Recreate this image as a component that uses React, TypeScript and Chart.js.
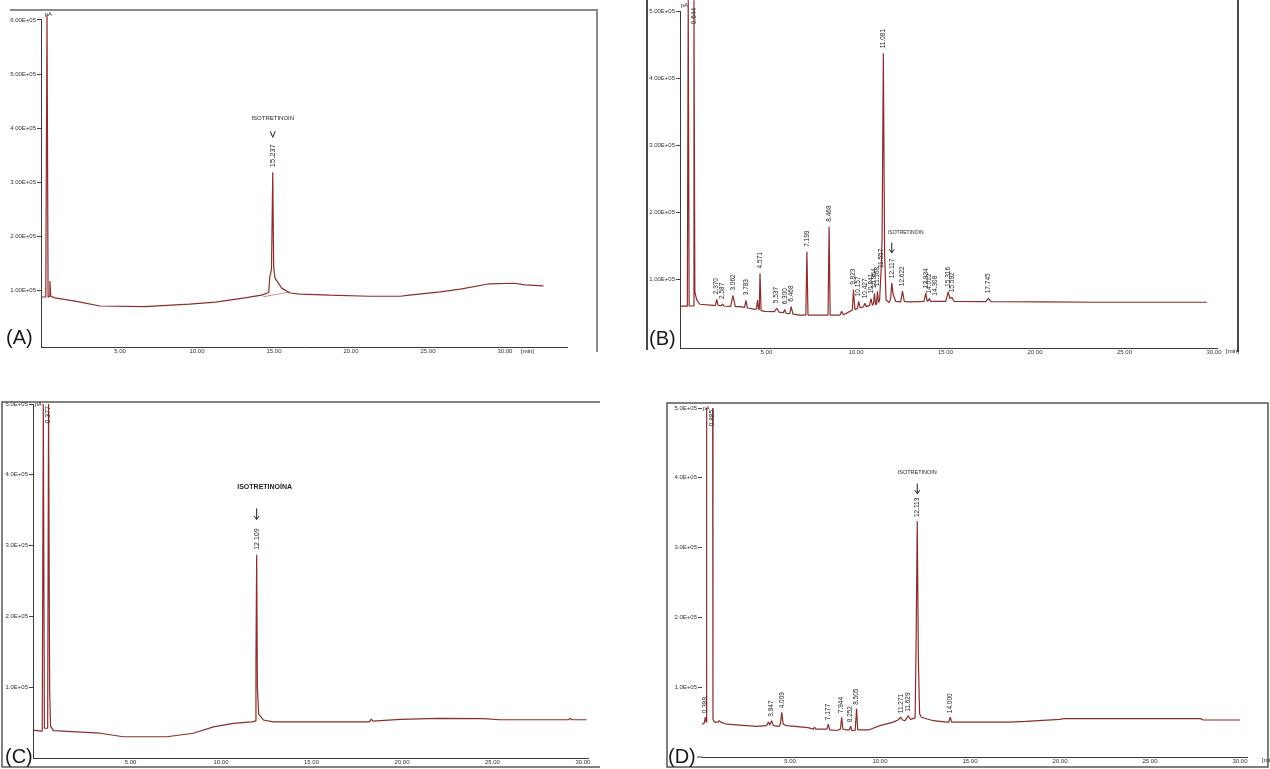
import React, { useEffect, useRef } from "react";
import { Chart, registerables } from "chart.js";

Chart.register(...registerables);

const FONT = '"Liberation Sans", Arial, sans-serif';
const TRACE = "#8b2d2d";

type Pair = [number, number];

// ---------------- Panel A ----------------
const xTicksA = [5, 10, 15, 20, 25, 30];
const xTickLabelsA = ["5.00", "10.00", "15.00", "20.00", "25.00", "30.00"];
const yTicksA = [1, 2, 3, 4, 5, 6];
const yTickLabelsA = ["1.00E+05", "2.00E+05", "3.00E+05", "4.00E+05", "5.00E+05", "6.00E+05"];
const traceA: Pair[] = [
  [-0.13, 0.886], [0.18, 0.886], [0.26, 6.09], [0.33, 0.88], [0.4, 0.9], [0.45, 1.18], [0.5, 0.9],
  [0.78, 0.87], [2.08, 0.81], [3.7, 0.72], [6.6, 0.71], [9.5, 0.756], [11.2, 0.79], [13.1, 0.87],
  [14.2, 0.92], [14.66, 0.97], [14.72, 1.24], [14.84, 1.4], [14.92, 3.19], [14.98, 1.45], [15.06, 1.24],
  [15.5, 1.05], [16.04, 0.96], [16.7, 0.94], [18.6, 0.92], [21.2, 0.9], [23.2, 0.9], [23.8, 0.92],
  [25.8, 0.98], [27.1, 1.03], [29.0, 1.13], [30.6, 1.14], [31.3, 1.11], [32.5, 1.09],
];
const integrationA: Pair[] = [[14.3, 0.89], [16.04, 0.98]];
const peakTimesA = [14.92];
const peakApexA = [3.19];
const peakTextA = ["15.237"];

// ---------------- Panel B ----------------
const xTicksB = [5, 10, 15, 20, 25, 30];
const xTickLabelsB = ["5.00", "10.00", "15.00", "20.00", "25.00", "30.00"];
const yTicksB = [1, 2, 3, 4, 5];
const yTickLabelsB = ["1.00E+05", "2.00E+05", "3.00E+05", "4.00E+05", "5.00E+05"];
const traceB: Pair[] = [
  [0.17, 0.607], [0.58, 0.607], [0.63, 5.16], [0.68, 0.61], [0.9, 0.61], [0.95, 5.16], [1.0, 0.82],
  [1.1, 0.7], [1.28, 0.636], [2.01, 0.62], [2.15, 0.62], [2.22, 0.71], [2.3, 0.62], [2.48, 0.615],
  [2.55, 0.64], [2.62, 0.61], [3.0, 0.605], [3.13, 0.765], [3.26, 0.6], [3.52, 0.6], [3.78, 0.59],
  [3.85, 0.695], [3.94, 0.58], [4.36, 0.56], [4.44, 0.57], [4.5, 0.7], [4.56, 0.56], [4.6, 0.56],
  [4.64, 1.095], [4.7, 0.54], [4.92, 0.53], [5.45, 0.525], [5.57, 0.577], [5.7, 0.52], [5.95, 0.51],
  [6.02, 0.56], [6.1, 0.5], [6.3, 0.495], [6.38, 0.6], [6.48, 0.49], [6.87, 0.473], [7.2, 0.475],
  [7.26, 1.416], [7.32, 0.475], [8.44, 0.473], [8.5, 1.79], [8.56, 0.473], [9.1, 0.473], [9.2, 0.53],
  [9.3, 0.48], [9.66, 0.53], [9.8, 0.55], [9.86, 0.85], [9.94, 0.56], [10.08, 0.57], [10.15, 0.68],
  [10.24, 0.58], [10.42, 0.6], [10.5, 0.65], [10.58, 0.6], [10.76, 0.62], [10.84, 0.72], [10.92, 0.62],
  [10.98, 0.64], [11.03, 0.8], [11.1, 0.63], [11.15, 0.64], [11.2, 0.83], [11.26, 0.66], [11.32, 0.7],
  [11.4, 1.1], [11.46, 1.6], [11.53, 4.37], [11.6, 1.4], [11.68, 0.7], [11.85, 0.66], [11.94, 0.72],
  [12.0, 0.95], [12.08, 0.78], [12.22, 0.68], [12.5, 0.67], [12.6, 0.83], [12.7, 0.68], [13.0, 0.67],
  [13.8, 0.68], [13.9, 0.8], [13.98, 0.68], [14.04, 0.69], [14.1, 0.72], [14.18, 0.68], [14.7, 0.68],
  [15.02, 0.68], [15.15, 0.82], [15.25, 0.72], [15.35, 0.74], [15.48, 0.68], [17.25, 0.675],
  [17.4, 0.725], [17.55, 0.675], [18.04, 0.673], [20.5, 0.67], [23.6, 0.666], [29.6, 0.666],
];
const peakTimesB = [0.95, 2.22, 2.55, 3.13, 3.85, 4.64, 5.57, 6.02, 6.38, 7.26, 8.5, 9.86, 10.15, 10.5, 10.84, 11.03, 11.2, 11.4, 11.53, 12.0, 12.6, 13.9, 14.1, 14.4, 15.15, 15.35, 17.4];
const peakApexB = [5.16, 0.71, 0.64, 0.765, 0.695, 1.095, 0.577, 0.56, 0.6, 1.416, 1.79, 0.85, 0.68, 0.65, 0.72, 0.8, 0.83, 1.1, 4.37, 0.95, 0.83, 0.8, 0.72, 0.69, 0.82, 0.74, 0.725];
const peakTextB = ["0.644", "2.370", "2.587", "3.062", "3.783", "4.571", "5.537", "6.300", "6.468", "7.199", "8.468", "9.823", "10.157", "10.427", "10.841", "10.964", "11.168", "11.557", "11.081", "12.117", "12.622", "13.934", "14.012", "14.308", "15.316", "15.592", "17.745"];

// ---------------- Panel C ----------------
const xTicksC = [5, 10, 15, 20, 25, 30];
const xTickLabelsC = ["5.00", "10.00", "15.00", "20.00", "25.00", "30.00"];
const yTicksC = [1, 2, 3, 4, 5];
const yTickLabelsC = ["1.0E+05", "2.0E+05", "3.0E+05", "4.0E+05", "5.0E+05"];
const traceC: Pair[] = [
  [-0.39, 0.395], [0.06, 0.38], [0.12, 0.38], [0.18, 5.0], [0.24, 0.42], [0.42, 0.42], [0.47, 5.0],
  [0.53, 0.96], [0.58, 0.45], [0.74, 0.386], [3.31, 0.35], [4.6, 0.3], [7.0, 0.3], [8.47, 0.35],
  [9.58, 0.44], [10.68, 0.49], [11.7, 0.51], [11.88, 0.52], [11.93, 1.3], [11.97, 2.87], [12.01, 1.0],
  [12.08, 0.62], [12.34, 0.537], [12.89, 0.51], [15.0, 0.51], [18.2, 0.51], [18.3, 0.55], [18.4, 0.52],
  [19.9, 0.545], [22.0, 0.56], [24.5, 0.555], [25.4, 0.54], [29.2, 0.54], [29.3, 0.56], [29.4, 0.54],
  [30.2, 0.54],
];
const peakTimesC = [0.47, 11.97];
const peakApexC = [5.0, 2.87];
const peakTextC = ["0.377", "12.109"];

// ---------------- Panel D ----------------
const xTicksD = [5, 10, 15, 20, 25, 30];
const xTickLabelsD = ["5.00", "10.00", "15.00", "20.00", "25.00", "30.00"];
const yTicksD = [1, 2, 3, 4, 5];
const yTickLabelsD = ["1.0E+05", "2.0E+05", "3.0E+05", "4.0E+05", "5.0E+05"];
const traceD: Pair[] = [
  [0.11, 0.47], [0.22, 0.48], [0.3, 0.57], [0.34, 0.5], [0.37, 5.5], [0.7, 5.5], [0.72, 0.54],
  [0.8, 0.5], [1.0, 0.5], [1.07, 0.52], [1.15, 0.5], [1.48, 0.47], [3.15, 0.44], [3.7, 0.45],
  [3.8, 0.5], [3.88, 0.46], [3.98, 0.52], [4.08, 0.45], [4.4, 0.44], [4.47, 0.48], [4.54, 0.64],
  [4.62, 0.47], [4.81, 0.45], [6.0, 0.42], [6.3, 0.4], [6.36, 0.43], [6.42, 0.4], [7.05, 0.4],
  [7.13, 0.47], [7.2, 0.39], [7.6, 0.38], [7.8, 0.4], [7.87, 0.57], [7.94, 0.4], [8.1, 0.39],
  [8.3, 0.39], [8.37, 0.44], [8.44, 0.38], [8.62, 0.38], [8.7, 0.69], [8.76, 0.39], [9.4, 0.39],
  [10.0, 0.45], [10.74, 0.5], [11.0, 0.53], [11.15, 0.57], [11.25, 0.53], [11.39, 0.52], [11.57, 0.59],
  [11.7, 0.54], [11.95, 0.56], [12.0, 1.5], [12.07, 3.38], [12.13, 1.4], [12.2, 0.62], [12.3, 0.57],
  [12.96, 0.52], [13.7, 0.5], [13.82, 0.5], [13.9, 0.57], [13.98, 0.5], [14.6, 0.5], [17.2, 0.5],
  [18.1, 0.51], [20.0, 0.54], [20.2, 0.55], [27.8, 0.55], [27.96, 0.53], [30.0, 0.53],
];
const peakTimesD = [0.3, 0.7, 3.98, 4.54, 7.13, 7.87, 8.37, 8.7, 11.15, 11.57, 12.07, 13.9];
const peakApexD = [0.57, 5.5, 0.52, 0.64, 0.47, 0.57, 0.44, 0.69, 0.57, 0.59, 3.38, 0.57];
const peakTextD = ["0.388", "0.885", "3.947", "4.009", "7.177", "7.944", "8.252", "8.505", "11.271", "11.629", "12.113", "14.000"];

interface MainSpec {
  index: number; name: string; font: string; dx: number;
  arrowGap: number; arrowLen: number; nameGap: number; chevron: boolean;
}
interface PanelSpec {
  box: { left: number; top: number; width: number; height: number };
  padding: { left: number; top: number; right: number; bottom: number };
  yWidth: number; xHeight: number;
  xRange: [number, number]; yRange: [number, number];
  xTicks: number[]; xTickLabels: string[]; yTicks: number[]; yTickLabels: string[];
  trace: Pair[]; integration?: Pair[];
  peakTimes: number[]; peakApex: number[]; peakText: string[];
  labelSize: number; labelGap: number; capTop: number;
  main: MainSpec;
  clip: boolean; yBorder: boolean;
  decorate: (ctx: CanvasRenderingContext2D) => void;
}

function text(ctx: CanvasRenderingContext2D, s: string, x: number, y: number, size: number, baseline: CanvasTextBaseline = "alphabetic") {
  ctx.font = `${size}px ${FONT}`;
  ctx.fillStyle = "#1a1a1a";
  ctx.textAlign = "left";
  ctx.textBaseline = baseline;
  ctx.fillText(s, x, y);
}

const specs: PanelSpec[] = [
  {
    box: { left: 0, top: 0, width: 635, height: 385 },
    padding: { left: 0, top: 19, right: 68, bottom: 29 },
    yWidth: 41, xHeight: 9,
    xRange: [-0.13, 34.03], yRange: [-0.037, 6.018],
    xTicks: xTicksA, xTickLabels: xTickLabelsA, yTicks: yTicksA, yTickLabels: yTickLabelsA,
    trace: traceA, integration: integrationA,
    peakTimes: peakTimesA, peakApex: peakApexA, peakText: peakTextA,
    labelSize: 7.5, labelGap: 5, capTop: 1,
    main: { index: 0, name: "ISOTRETINOIN", font: `6px ${FONT}`, dx: 0, arrowGap: 7, arrowLen: 6, nameGap: 13, chevron: true },
    clip: false, yBorder: true,
    decorate: (ctx) => {
      ctx.strokeStyle = "#8a8a8a"; ctx.lineWidth = 2;
      ctx.beginPath(); ctx.moveTo(10, 10); ctx.lineTo(597, 10); ctx.lineTo(597, 352); ctx.stroke();
      text(ctx, "(A)", 6, 344, 20);
      text(ctx, "pA", 45, 16, 5.5);
      text(ctx, "[min]", 521, 351, 6, "middle");
    },
  },
  {
    box: { left: 635, top: 0, width: 635, height: 385 },
    padding: { left: 0, top: 11, right: 53, bottom: 28 },
    yWidth: 45, xHeight: 9,
    xRange: [0.17, 30.17], yRange: [-0.015, 5.0],
    xTicks: xTicksB, xTickLabels: xTickLabelsB, yTicks: yTicksB, yTickLabels: yTickLabelsB,
    trace: traceB,
    peakTimes: peakTimesB, peakApex: peakApexB, peakText: peakTextB,
    labelSize: 6.5, labelGap: 5, capTop: -3,
    main: { index: 19, name: "ISOTRETINOIN", font: `5px ${FONT}`, dx: 14, arrowGap: 6, arrowLen: 10, nameGap: 10, chevron: false },
    clip: false, yBorder: true,
    decorate: (ctx) => {
      ctx.strokeStyle = "#4a4a4a"; ctx.lineWidth = 2;
      ctx.beginPath(); ctx.moveTo(12, 0); ctx.lineTo(12, 350); ctx.stroke();
      ctx.beginPath(); ctx.moveTo(603, 0); ctx.lineTo(603, 352); ctx.stroke();
      text(ctx, "(B)", 14, 345, 20);
      text(ctx, "pA", 46, 7, 5.5);
      text(ctx, "[min]", 591, 351, 6, "middle");
    },
  },
  {
    box: { left: 0, top: 385, width: 635, height: 384 },
    padding: { left: 0, top: 19, right: 47, bottom: 3 },
    yWidth: 33, xHeight: 8,
    xRange: [-0.39, 30.28], yRange: [0, 5],
    xTicks: xTicksC, xTickLabels: xTickLabelsC, yTicks: yTicksC, yTickLabels: yTickLabelsC,
    trace: traceC,
    peakTimes: peakTimesC, peakApex: peakApexC, peakText: peakTextC,
    labelSize: 7, labelGap: 5, capTop: 2,
    main: { index: 1, name: "ISOTRETINOÍNA", font: `bold 7px ${FONT}`, dx: 8, arrowGap: 9, arrowLen: 11, nameGap: 21, chevron: false },
    clip: false, yBorder: true,
    decorate: (ctx) => {
      ctx.strokeStyle = "#5a5a5a"; ctx.lineWidth = 1.5;
      ctx.beginPath(); ctx.moveTo(600, 17); ctx.lineTo(2, 17); ctx.lineTo(2, 382); ctx.lineTo(600, 382); ctx.stroke();
      text(ctx, "(C)", 5, 378, 20);
      text(ctx, "pA", 35, 21, 5.5);
    },
  },
  {
    box: { left: 635, top: 385, width: 635, height: 384 },
    padding: { left: 0, top: 23, right: 23, bottom: 4 },
    yWidth: 67, xHeight: 8,
    xRange: [0.11, 30.39], yRange: [0, 5],
    xTicks: xTicksD, xTickLabels: xTickLabelsD, yTicks: yTicksD, yTickLabels: yTickLabelsD,
    trace: traceD,
    peakTimes: peakTimesD, peakApex: peakApexD, peakText: peakTextD,
    labelSize: 6.5, labelGap: 4, capTop: 2,
    main: { index: 10, name: "ISOTRETINOIN", font: `5.5px ${FONT}`, dx: 0, arrowGap: 4, arrowLen: 10, nameGap: 11, chevron: false },
    clip: true, yBorder: false,
    decorate: (ctx) => {
      ctx.strokeStyle = "#555"; ctx.lineWidth = 1.5;
      ctx.strokeRect(32, 18, 601, 364);
      ctx.lineWidth = 1; ctx.strokeStyle = "#3a3a3a";
      ctx.beginPath(); ctx.moveTo(62, 372); ctx.lineTo(67, 372); ctx.stroke();
      text(ctx, "(D)", 33, 378, 20);
      text(ctx, "pA", 68, 25, 5.5);
      text(ctx, "[min]", 627, 375, 6, "middle");
    },
  },
];

function overlayPlugin(spec: PanelSpec) {
  return {
    id: "overlay",
    afterDatasetsDraw(chart: any) {
      const ctx: CanvasRenderingContext2D = chart.ctx;
      const ca = chart.chartArea;
      const xs = chart.scales.x;
      const ys = chart.scales.y;
      ctx.save();
      ctx.fillStyle = "#1e1e1e";
      ctx.strokeStyle = "#1e1e1e";
      spec.peakTimes.forEach((t, i) => {
        const s = spec.peakText[i];
        const px = xs.getPixelForValue(t);
        const py = ys.getPixelForValue(spec.peakApex[i]);
        ctx.font = `${spec.labelSize}px ${FONT}`;
        ctx.textAlign = "left";
        ctx.textBaseline = "middle";
        const w = ctx.measureText(s).width;
        const bottom = Math.max(py - spec.labelGap, ca.top + spec.capTop + w);
        ctx.save();
        ctx.translate(px, bottom);
        ctx.rotate(-Math.PI / 2);
        ctx.fillText(s, 0, 0);
        ctx.restore();
        if (i === spec.main.index) {
          const m = spec.main;
          const labelTop = bottom - w;
          const ab = labelTop - m.arrowGap;
          const at = ab - m.arrowLen;
          ctx.lineWidth = 1;
          ctx.beginPath();
          if (m.chevron) {
            ctx.moveTo(px - 2.5, at); ctx.lineTo(px, ab); ctx.lineTo(px + 2.5, at);
          } else {
            ctx.moveTo(px, at); ctx.lineTo(px, ab);
            ctx.moveTo(px - 2.5, ab - 3.5); ctx.lineTo(px, ab); ctx.lineTo(px + 2.5, ab - 3.5);
          }
          ctx.stroke();
          ctx.font = m.font;
          ctx.textAlign = "center";
          ctx.textBaseline = "middle";
          ctx.fillText(m.name, px + m.dx, at - m.nameGap);
        }
      });
      ctx.restore();
    },
    afterDraw(chart: any) {
      const ctx: CanvasRenderingContext2D = chart.ctx;
      ctx.save();
      spec.decorate(ctx);
      ctx.restore();
    },
  };
}

function Panel({ spec }: { spec: PanelSpec }) {
  const ref = useRef<HTMLCanvasElement>(null);
  useEffect(() => {
    const canvas = ref.current;
    if (!canvas) return;
    const datasets: any[] = [
      {
        data: spec.trace.map(([x, y]) => ({ x, y })),
        borderColor: TRACE,
        borderWidth: 1.2,
        borderJoinStyle: "bevel",
        pointRadius: 0,
        tension: 0,
        fill: false,
        ...(spec.clip ? {} : { clip: false }),
      },
    ];
    if (spec.integration) {
      datasets.push({
        data: spec.integration.map(([x, y]) => ({ x, y })),
        borderColor: "#d08a8a",
        borderWidth: 1,
        pointRadius: 0,
        fill: false,
      });
    }
    const chart = new Chart(canvas, {
      type: "line",
      data: { datasets },
      options: {
        responsive: false,
        maintainAspectRatio: false,
        animation: false,
        devicePixelRatio: 1,
        events: [],
        layout: { padding: spec.padding },
        plugins: { legend: { display: false }, tooltip: { enabled: false }, title: { display: false } },
        scales: {
          x: {
            type: "linear",
            min: spec.xRange[0],
            max: spec.xRange[1],
            afterBuildTicks: (scale: any) => { scale.ticks = spec.xTicks.map((v) => ({ value: v })); },
            afterFit: (scale: any) => { scale.height = spec.xHeight; },
            border: { display: true, color: "#3a3a3a", width: 1 },
            grid: { display: false, drawTicks: false },
            ticks: {
              autoSkip: false, maxRotation: 0, minRotation: 0, padding: 1,
              color: "#333", font: { size: 6, family: FONT },
              callback: (v: any) => { const i = spec.xTicks.indexOf(v); return i >= 0 ? spec.xTickLabels[i] : ""; },
            },
          },
          y: {
            type: "linear",
            min: spec.yRange[0],
            max: spec.yRange[1],
            afterBuildTicks: (scale: any) => { scale.ticks = spec.yTicks.map((v) => ({ value: v })); },
            afterFit: (scale: any) => { scale.width = spec.yWidth; },
            border: { display: spec.yBorder, color: "#3a3a3a", width: 1 },
            grid: { display: true, drawOnChartArea: false, drawTicks: true, tickLength: 4, color: "#444", lineWidth: 1 },
            ticks: {
              autoSkip: false, padding: 1,
              color: "#333", font: { size: 6, family: FONT },
              callback: (v: any) => { const i = spec.yTicks.indexOf(v); return i >= 0 ? spec.yTickLabels[i] : ""; },
            },
          },
        },
      } as any,
      plugins: [overlayPlugin(spec)],
    });
    return () => chart.destroy();
  }, [spec]);
  const b = spec.box;
  return (
    <canvas
      ref={ref}
      width={b.width}
      height={b.height}
      style={{ position: "absolute", left: b.left, top: b.top, width: b.width, height: b.height }}
    />
  );
}

export default function App() {
  return (
    <div style={{ position: "fixed", left: 0, top: 0, width: 1270, height: 769, background: "#fff", overflow: "hidden" }}>
      {specs.map((s, i) => (
        <Panel key={i} spec={s} />
      ))}
    </div>
  );
}
